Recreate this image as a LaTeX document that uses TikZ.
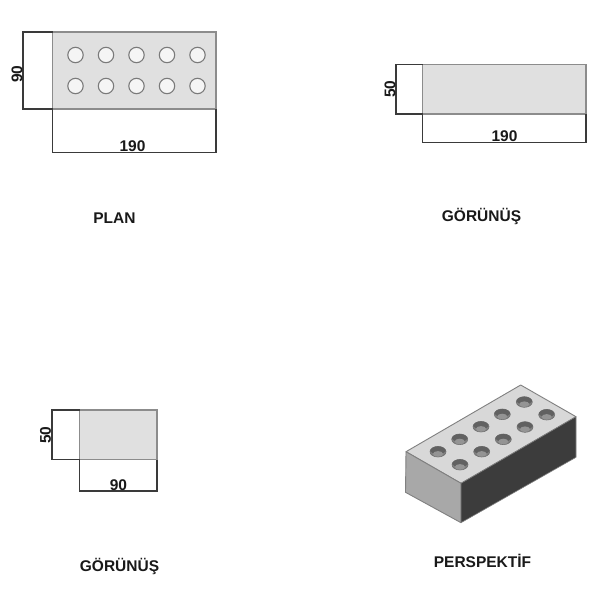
\documentclass[tikz,border=0pt]{standalone}
\usepackage{fontspec}
\setmainfont{Liberation Sans}
\tikzset{
 face/.style={fill=facegray,draw=edgegray,line width=1.2pt},
 dimline/.style={draw=dimdark,line width=1.3pt},
 dimtext/.style={font=\fontsize{15.5}{15.5}\selectfont\bfseries,text=black!90,inner sep=0pt},
 title/.style={font=\fontsize{15.5}{15.5}\selectfont\bfseries,text=black!90,inner sep=0pt},
 hole/.style={fill=white!96!black,draw=holeedge,line width=1.1pt},
 pocket/.style={fill=pocketgray,draw=pocketedge,line width=0.6pt},
}
\definecolor{facegray}{HTML}{E0E0E0}
\definecolor{edgegray}{HTML}{8C8C8C}
\definecolor{dimdark}{HTML}{3A3A3A}
\definecolor{holeedge}{HTML}{7A7A7A}
\definecolor{pocketgray}{HTML}{808080}
\definecolor{pocketedge}{HTML}{707070}
\definecolor{isotop}{HTML}{D8D8D8}
\definecolor{isoleft}{HTML}{A8A8A8}
\definecolor{isoright}{HTML}{3C3C3C}
\begin{document}
\begin{tikzpicture}[x=1pt,y=-1pt]
\useasboundingbox (0,0) rectangle (600,600);
% PLAN
\fill[white] (0,0) rectangle (600,600);
\draw[face] (52.5,32) rectangle (216,109);
\foreach \x in {75.5,106,136.5,167,197.5}\foreach \y in {55,86}{\draw[hole] (\x,\y) circle (7.7);}
\draw[dimline] (52.5,32) -- (23,32) -- (23,109) -- (52.5,109);
\draw[dimline] (52.5,109) -- (52.5,152.5) -- (216,152.5) -- (216,109);
\node[dimtext,rotate=90] (plandepth) at (17,74) {90};
\node[dimtext] (planwidth) at (132.5,146) {190};
\node[title] (plantitle) at (114.5,218.5) {PLAN};
% GORUNUS 1
\draw[face] (422.7,64.7) rectangle (586,114);
\draw[dimline] (422.7,64.7) -- (396,64.7) -- (396,114) -- (422.7,114);
\draw[dimline] (422.7,114) -- (422.7,142.3) -- (586,142.3) -- (586,114);
\node[dimtext,rotate=90] (longheight) at (390,89) {50};
\node[dimtext] (longwidth) at (504.5,136.5) {190};
\node[title] (longtitle) at (481.5,216.5) {GÖRÜNÜŞ};
% GORUNUS 2
\draw[face] (79.7,410) rectangle (157,459.5);
\draw[dimline] (79.7,410) -- (52,410) -- (52,459.5) -- (79.7,459.5);
\draw[dimline] (79.7,459.5) -- (79.7,491) -- (157,491) -- (157,459.5);
\node[dimtext,rotate=90] (shortheight) at (45.5,435) {50};
\node[dimtext] (shortwidth) at (118.5,485) {90};
\node[title] (shorttitle) at (119.5,566.5) {GÖRÜNÜŞ};
% PERSPEKTIF
\draw[fill=isotop,draw=gray,line width=0.9pt,line join=round] (520.7,385) -- (576,416.7) -- (461,483.3) -- (406,451.7) -- cycle;
\draw[fill=isoleft,draw=gray,line width=0.9pt,line join=round] (406,451.7) -- (461,483.3) -- (461,522.7) -- (405.5,492.3) -- cycle;
\draw[fill=isoright,draw=gray,line width=0.6pt,line join=round] (461,483.3) -- (576,416.7) -- (576,457.3) -- (461,522.7) -- cycle;
\foreach \x/\y in {524.3/402,502.3/414.3,481/426.7,459.7/439.3,438/451.7,546.7/414.7,525/427,503.3/439.3,481.7/451.7,460/464.7}{
 \draw[pocket] (\x,\y) ellipse (8 and 5.3);
 \begin{scope}
 \clip (\x,\y) ellipse (8 and 5.3);
 \fill[black!62] (\x,\y-2) ellipse (8 and 4.5);
 \fill[black!42] (\x,\y+2.2) ellipse (5 and 2.8);
 \end{scope}
}
\node[title] (isotitle) at (482.5,561) {PERSPEKTİF};
\end{tikzpicture}
\end{document}
